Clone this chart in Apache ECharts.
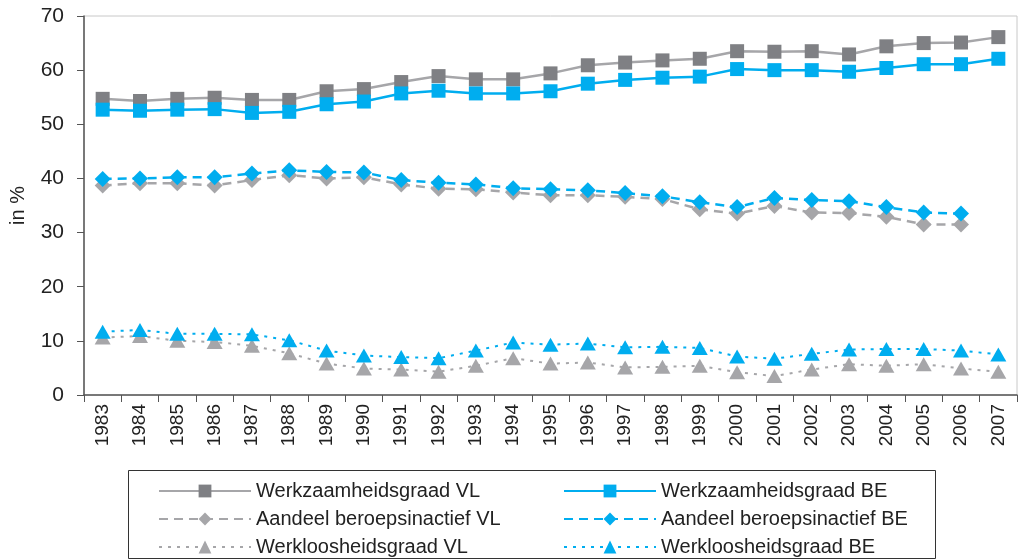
<!DOCTYPE html>
<html>
  <head>
    <meta charset="utf-8" />
    <script src="https://cdn.jsdelivr.net/npm/echarts@6/dist/echarts.min.js"></script>
  </head>
  <body style="margin: 0">
    <div id="main" style="width: 1021px; height: 560px"></div>

    <script type="text/javascript">
      // years on the x axis
      const years = ["1983", "1984", "1985", "1986", "1987", "1988", "1989", "1990", "1991", "1992", "1993", "1994", "1995", "1996", "1997", "1998", "1999", "2000", "2001", "2002", "2003", "2004", "2005", "2006", "2007"];

      // werkzaamheidsgraad
      const werkVL = [54.7, 54.3, 54.7, 54.9, 54.5, 54.5, 56.1, 56.5, 57.8, 58.9, 58.3, 58.3, 59.4, 60.9, 61.4, 61.8, 62.1, 63.5, 63.4, 63.5, 62.9, 64.4, 65.0, 65.1, 66.1];
      const werkBE = [52.7, 52.5, 52.7, 52.8, 52.1, 52.3, 53.7, 54.2, 55.7, 56.2, 55.7, 55.7, 56.1, 57.5, 58.2, 58.6, 58.8, 60.2, 60.0, 60.0, 59.7, 60.4, 61.1, 61.1, 62.1];

      // aandeel beroepsinactief (no value for 2007)
      const inactiefVL = [38.7, 39.1, 39.1, 38.7, 39.7, 40.6, 40.0, 40.2, 38.9, 38.1, 38.0, 37.4, 36.9, 36.9, 36.6, 36.2, 34.3, 33.5, 34.9, 33.7, 33.6, 32.9, 31.5, 31.5, null];
      const inactiefBE = [39.9, 40.0, 40.2, 40.2, 40.9, 41.5, 41.2, 41.1, 39.7, 39.2, 38.9, 38.2, 38.0, 37.8, 37.3, 36.7, 35.6, 34.7, 36.4, 36.0, 35.8, 34.7, 33.7, 33.5, null];

      // werkloosheidsgraad
      const werklozenVL = [10.6, 10.9, 10.0, 9.8, 9.1, 7.7, 5.8, 4.9, 4.7, 4.3, 5.4, 6.8, 5.8, 6.0, 5.1, 5.2, 5.4, 4.2, 3.5, 4.7, 5.7, 5.4, 5.7, 4.9, 4.3];
      const werklozenBE = [11.7, 12.0, 11.3, 11.3, 11.2, 10.1, 8.2, 7.3, 7.0, 6.8, 8.2, 9.7, 9.3, 9.5, 8.8, 8.9, 8.7, 7.1, 6.7, 7.6, 8.4, 8.5, 8.5, 8.2, 7.5];

      const blue = "#00adef";
      const greyLine = "#a6a6a9";
      const greyMark = "#7f8084";
      const font = "'Liberation Sans', Arial, sans-serif";

      function makeSeries(name, data, color, markColor, symbol, size, dash, width) {
        return {
          name: name,
          type: "line",
          data: data,
          symbol: symbol,
          symbolSize: size,
          showAllSymbol: true,
          connectNulls: false,
          itemStyle: { color: markColor, borderWidth: 0 },
          lineStyle: { color: color, width: width, type: dash },
          emphasis: { disabled: true },
        };
      }

      const legendCommon = {
        orient: "vertical",
        top: 481,
        height: 78,
        padding: 0,
        itemWidth: 92,
        itemHeight: 16,
        itemGap: 8,
        textStyle: { fontFamily: font, fontSize: 20, color: "#222", lineHeight: 20 },
        selectedMode: false,
      };

      var option = {
        animation: false,
        textStyle: { fontFamily: font },
        grid: {
          left: 82,
          right: 4,
          top: 16,
          bottom: 165,
          show: true,
          borderColor: "#c8c8c8",
          borderWidth: 1,
        },
        legend: [
          Object.assign({}, legendCommon, {
            left: 158,
            data: ["Werkzaamheidsgraad VL", "Aandeel beroepsinactief VL", "Werkloosheidsgraad VL"],
          }),
          Object.assign({}, legendCommon, {
            left: 563,
            data: ["Werkzaamheidsgraad BE", "Aandeel beroepsinactief BE", "Werkloosheidsgraad BE"],
          }),
        ],
        graphic: [
          {
            type: "rect",
            shape: { x: 128.5, y: 470.5, width: 807, height: 88 },
            style: { fill: "none", stroke: "#333", lineWidth: 1 },
          },
        ],
        xAxis: {
          type: "category",
          data: years,
          boundaryGap: true,
          axisLine: { lineStyle: { color: "#555", width: 1.5 } },
          axisTick: { show: true, length: 7, lineStyle: { color: "#555" } },
          axisLabel: { rotate: 90, fontSize: 19, color: "#222", margin: 9, interval: 0 },
        },
        yAxis: {
          type: "value",
          min: 0,
          max: 70,
          interval: 10,
          name: "in %",
          nameLocation: "middle",
          nameGap: 56,
          nameTextStyle: { fontSize: 20, color: "#222" },
          axisLine: { show: true, lineStyle: { color: "#555", width: 1.5 } },
          axisTick: { show: true, length: 7, lineStyle: { color: "#555" } },
          axisLabel: { fontSize: 21, color: "#222", margin: 20 },
          splitLine: { show: false },
        },
        series: [
          makeSeries("Werkzaamheidsgraad VL", werkVL, greyLine, greyMark, "rect", 14, "solid", 2.5),
          makeSeries("Aandeel beroepsinactief VL", inactiefVL, greyLine, greyLine, "diamond", 16, [9, 6], 2.5),
          makeSeries("Werkloosheidsgraad VL", werklozenVL, greyLine, greyLine, "triangle", [16, 14], [3, 6], 2),
          makeSeries("Werkzaamheidsgraad BE", werkBE, blue, blue, "rect", 14, "solid", 2.5),
          makeSeries("Aandeel beroepsinactief BE", inactiefBE, blue, blue, "diamond", 16, [9, 6], 2.5),
          makeSeries("Werkloosheidsgraad BE", werklozenBE, blue, blue, "triangle", [16, 14], [3, 6], 2),
        ],
      };

      const myChart = echarts.init(document.getElementById("main"));
      myChart.setOption(option);
    </script>
  </body>
</html>
